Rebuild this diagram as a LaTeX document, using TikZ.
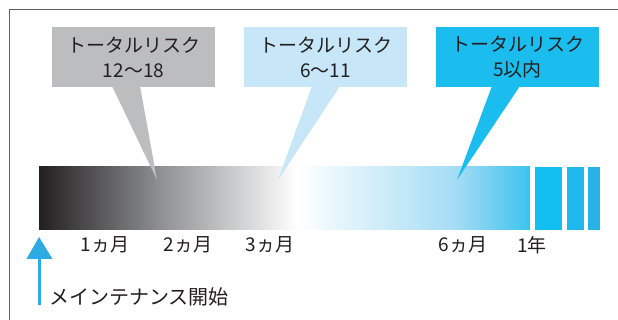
\documentclass[tikz,border=0pt]{standalone}
\usepackage{fontspec}
\setmainfont{Noto Sans CJK JP}
\definecolor{ink}{HTML}{231F20}
\definecolor{boxgray}{HTML}{BCBDBF}
\definecolor{boxlight}{HTML}{C7E7F8}
\definecolor{boxcyan}{HTML}{1ABDED}
\definecolor{barA}{HTML}{231F20}
\definecolor{barB}{HTML}{8B8D90}
\definecolor{barC}{HTML}{FFFFFF}
\definecolor{barD}{HTML}{A3DBF4}
\definecolor{barE}{HTML}{3CC3EF}
\definecolor{seg1}{HTML}{13BFF0}
\definecolor{seg2}{HTML}{1FB8EC}
\definecolor{seg3}{HTML}{28B3E8}
\definecolor{arrowblue}{HTML}{2DAAE1}
\definecolor{framegray}{HTML}{606060}
\tikzset{
  callout/.style={minimum width=163pt, minimum height=60pt, inner sep=0pt,
    align=center, text=ink, font=\fontsize{19}{25}\selectfont},
  lbl/.style={text=ink, font=\fontsize{19}{22}\selectfont, inner sep=0pt},
}
\begin{document}
\begin{tikzpicture}[x=1pt,y=-1pt]
\useasboundingbox (0,0) rectangle (618,320);
\fill[white] (0,0) rectangle (618,320);
% frame
\draw[framegray, line width=1.1pt] (618,9.5) -- (9.5,9.5) -- (9.5,320);
% bar
\shade[left color=barA, right color=barB] (39,167) rectangle (157,230);
\shade[left color=barB, right color=barC] (156.5,167) rectangle (297,230);
\shade[left color=barC, right color=barD] (296.5,167) rectangle (458,230);
\shade[left color=barD, right color=barE] (457.5,167) rectangle (530,230);
\fill[seg1] (535,167) rectangle (562,230);
\fill[seg2] (567,167) rectangle (584,230);
\fill[seg3] (588,167) rectangle (600,230);
% callouts
\node[callout, fill=boxgray] (c1) at (133.5,57.5) {トータルリスク\\12〜18};
\node[callout, fill=boxlight] (c2) at (325.5,57.5) {トータルリスク\\6〜11};
\node[callout, fill=boxcyan] (c3) at (517.5,57.5) {トータルリスク\\5以内};
\coordinate (t1) at (157,180);
\coordinate (t2) at (278,180);
\coordinate (t3) at (457,180);
\fill[boxgray] (112,86) -- (140,86) -- (t1) -- cycle;
\fill[boxlight] (312,86) -- (340,86) -- (t2) -- cycle;
\fill[boxcyan] (492,86) -- (520,86) -- (t3) -- cycle;
% labels
\node[lbl] (m1) at (105,245) {1ヵ月};
\node[lbl] (m2) at (188,245) {2ヵ月};
\node[lbl] (m3) at (270,245) {3ヵ月};
\node[lbl] (m6) at (463,245) {6ヵ月};
\node[lbl] (y1) at (532,245) {1年};
% start arrow
\coordinate (abase) at (39,305);
\coordinate (atip) at (39,237);
\draw[arrowblue, line width=3pt] (abase) -- (39,256);
\fill[arrowblue] (26.5,259) -- (52.5,259) -- (atip) -- cycle;
\node[lbl, anchor=west, font=\fontsize{20}{24}\selectfont] (start) at (49,297) {メインテナンス開始};
\end{tikzpicture}
\end{document}
